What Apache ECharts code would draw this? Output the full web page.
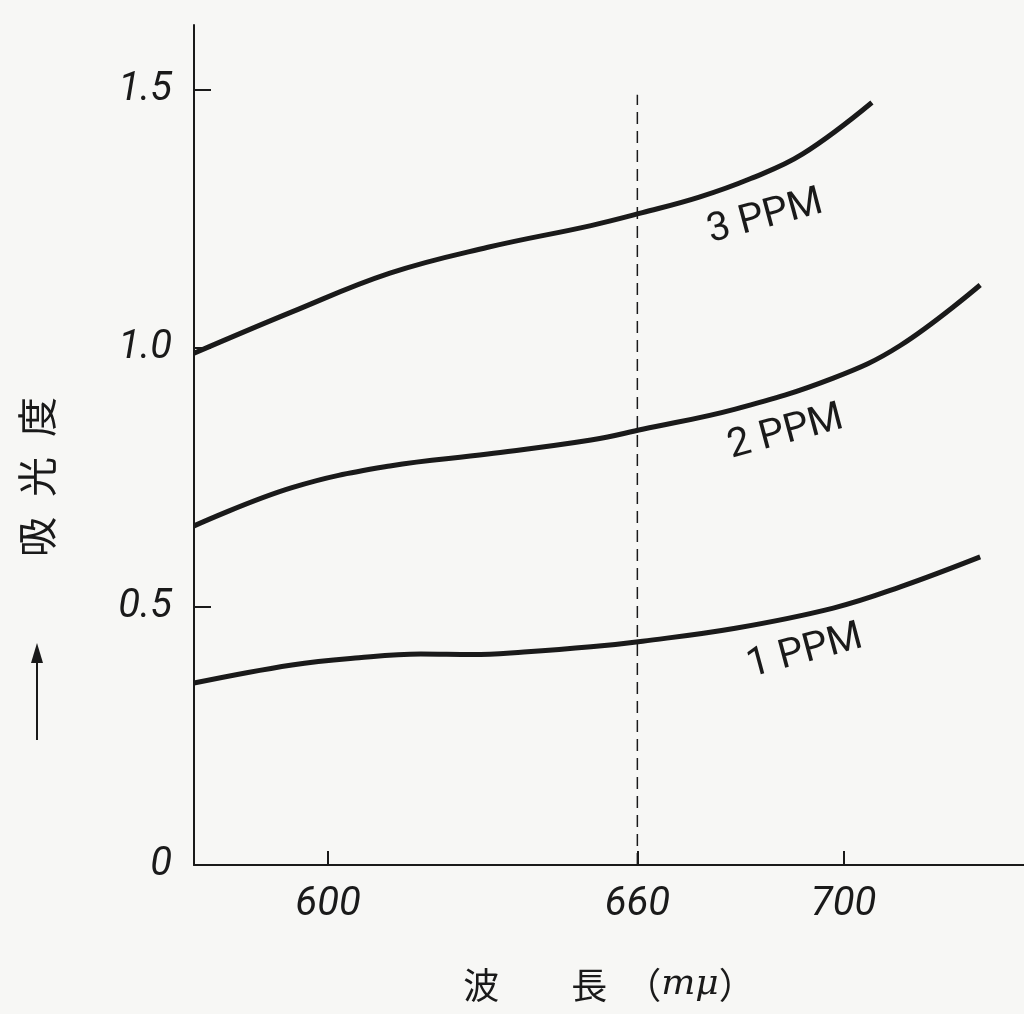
<!DOCTYPE html>
<html>
<head>
<meta charset="utf-8">
<title>吸光度</title>
<script src="https://cdn.jsdelivr.net/npm/echarts@6/dist/echarts.min.js"></script>
<style>
  html, body { margin: 0; padding: 0; background: #f7f7f5; }
  #chart { width: 1024px; height: 1014px; }
</style>
</head>
<body>
<div id="chart"></div>
<script>
// wavelength (m\u03bc) and absorbance
const ppm3X = [574, 593, 612, 631, 651, 661, 672, 682, 692, 705.5];
const ppm3Y = [0.99, 1.07, 1.145, 1.195, 1.237, 1.262, 1.292, 1.328, 1.375, 1.475];

const ppm2X = [574, 593, 612, 631, 651, 661, 679, 698, 711, 726.5];
const ppm2Y = [0.656, 0.73, 0.772, 0.795, 0.822, 0.843, 0.882, 0.942, 1.005, 1.122];

const ppm1X = [574, 593, 606, 618, 628, 638, 651, 661, 679, 698, 711, 726.5];
const ppm1Y = [0.352, 0.387, 0.401, 0.408, 0.407, 0.412, 0.422, 0.433, 0.458, 0.497, 0.538, 0.596];

const seriesNames = ['3 PPM', '2 PPM', '1 PPM'];
// where each curve's name sits (wavelength, absorbance)
const nameAtX = [684.8, 688.8, 692.5];
const nameAtY = [1.253, 0.836, 0.412];

const xTicks = [600, 660, 700];
const yTicks = [0, 0.5, 1.0, 1.5];
const refLineX = [660, 660];
const refLineY = [0, 1.49];

function pairs(xs, ys) {
    return xs.map(function (x, i) { return [x, ys[i]]; });
}

var chartDom = document.getElementById('chart');
var myChart = echarts.init(chartDom);
var option;

var numFont = "Roboto, 'Noto Sans', sans-serif";
var ink = '#1a1a1a';

function curve(idx, xs, ys) {
    return {
        name: seriesNames[idx],
        type: 'line',
        data: pairs(xs, ys),
        smooth: 0.4,
        showSymbol: false,
        lineStyle: { color: ink, width: 5 },
        markPoint: {
            symbol: 'circle',
            symbolSize: 0,
            data: [{ coord: [nameAtX[idx], nameAtY[idx]], value: seriesNames[idx] }],
            label: {
                show: true,
                formatter: seriesNames[idx],
                position: 'inside',
                rotate: 15,
                color: ink,
                fontFamily: numFont,
                fontSize: 40
            }
        }
    };
}

option = {
    backgroundColor: '#f7f7f5',
    animation: false,
    grid: { left: 194, right: 0, top: 25, bottom: 149 },
    xAxis: {
        type: 'value',
        min: 574,
        max: 735,
        name: '波　　長　（{i|mμ}）',
        nameLocation: 'middle',
        nameGap: 102,
        nameTextStyle: {
            color: ink,
            fontSize: 36,
            fontFamily: "'Noto Sans CJK JP', sans-serif",
            rich: {
                i: { fontSize: 36, fontStyle: 'italic', fontFamily: "'DejaVu Serif', serif", color: ink }
            }
        },
        axisLine: { show: true, lineStyle: { color: ink, width: 2 } },
        axisTick: { show: true, inside: true, length: 14, customValues: xTicks, lineStyle: { color: ink, width: 2 } },
        axisLabel: {
            customValues: xTicks,
            margin: 20,
            color: ink,
            fontSize: 40,
            fontStyle: 'italic',
            fontFamily: numFont
        },
        splitLine: { show: false }
    },
    yAxis: {
        type: 'value',
        min: 0,
        max: 1.625,
        axisLine: { show: true, lineStyle: { color: ink, width: 2 } },
        axisTick: { show: true, inside: true, length: 17, customValues: yTicks, lineStyle: { color: ink, width: 2 } },
        axisLabel: {
            customValues: yTicks,
            margin: 22,
            color: ink,
            fontSize: 40,
            fontStyle: 'italic',
            fontFamily: numFont,
            formatter: function (v) { return v === 0 ? '0' : v.toFixed(1); }
        },
        splitLine: { show: false }
    },
    graphic: [
        {
            type: 'text',
            left: 17,
            top: 397,
            rotation: Math.PI / 2,
            originX: 0,
            originY: 0,
            style: {
                text: '吸\u2002光\u2002度',
                fill: ink,
                font: "40px 'Noto Sans CJK JP', sans-serif"
            }
        },
        {
            type: 'group',
            left: 31,
            top: 643,
            children: [
                { type: 'line', shape: { x1: 7, y1: 14, x2: 7, y2: 97 }, style: { stroke: ink, lineWidth: 2 } },
                { type: 'polygon', shape: { points: [[7, 0], [1, 20], [13, 20]] }, style: { fill: ink } }
            ]
        }
    ],
    series: [
        curve(0, ppm3X, ppm3Y),
        curve(1, ppm2X, ppm2Y),
        curve(2, ppm1X, ppm1Y),
        {
            name: '660',
            type: 'line',
            data: pairs(refLineX, refLineY),
            showSymbol: false,
            lineStyle: { color: ink, width: 1.5, type: [12, 7] }
        }
    ]
};

option && myChart.setOption(option);
</script>
</body>
</html>
